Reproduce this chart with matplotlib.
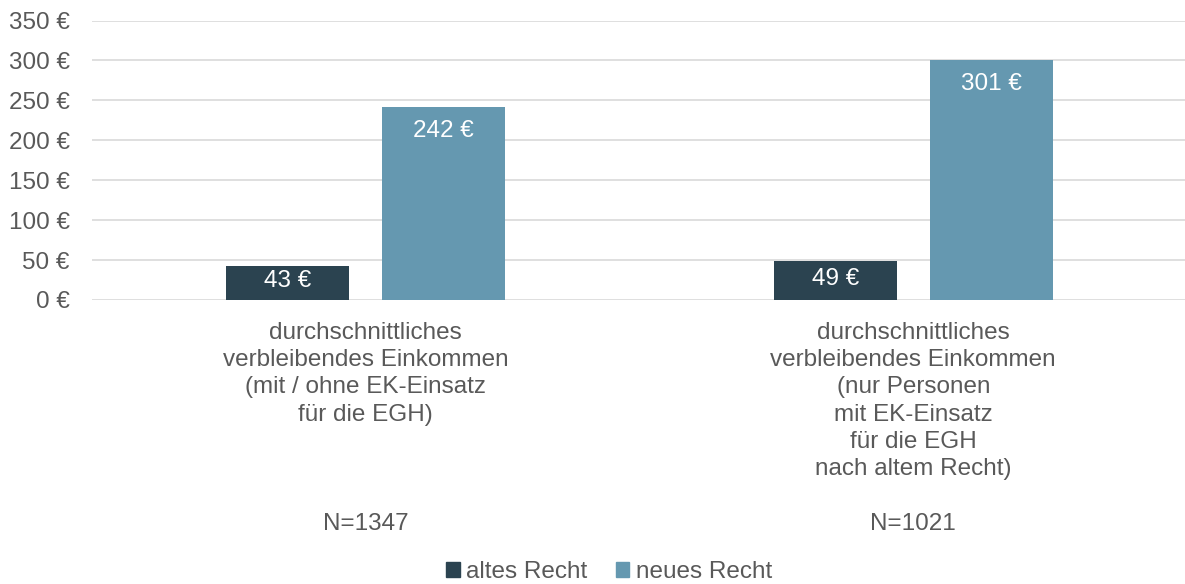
import matplotlib.pyplot as plt
import numpy as np
from matplotlib.patches import Patch

plt.rcParams['font.family'] = ['Liberation Sans', 'DejaVu Sans']

# Daten
kategorien = [
    "durchschnittliches\nverbleibendes Einkommen\n(mit / ohne EK-Einsatz\nfür die EGH)",
    "durchschnittliches\nverbleibendes Einkommen\n(nur Personen\nmit EK-Einsatz\nfür die EGH\nnach altem Recht)",
]
fallzahlen = ["N=1347", "N=1021"]
altes_recht = [43, 49]
neues_recht = [242, 301]
serien = ["altes Recht", "neues Recht"]
y_ticks = [0, 50, 100, 150, 200, 250, 300, 350]

farbe_alt = "#2b4350"
farbe_neu = "#6598b0"
text_grau = "#595959"
fs = 17.5

fig = plt.figure(figsize=(11.85, 5.84), dpi=100)
ax = fig.add_axes([92 / 1185, 284 / 584, 1095 / 1185, 279.5 / 584])

x = np.arange(len(kategorien))
breite = 0.225
versatz = 0.1425

b1 = ax.bar(x - versatz, altes_recht, breite, color=farbe_alt, zorder=3)
b2 = ax.bar(x + versatz, neues_recht, breite, color=farbe_neu, zorder=3)

# Werte in den Balken
for bars, werte in [(b1, altes_recht), (b2, neues_recht)]:
    for rect, v in zip(bars, werte):
        y = max(v / 2 + 2, v - 30)
        ax.text(rect.get_x() + rect.get_width() / 2, y, f"{v} €",
                ha='center', va='center', color='white', fontsize=fs, zorder=4)

ax.set_ylim(0, 350)
ax.set_xlim(-0.5, 1.5)
ax.set_yticks(y_ticks)
ax.set_yticklabels([f"{t} €" for t in y_ticks])
ax.yaxis.grid(True, color="#d9d9d9", linewidth=1.2, zorder=0)
ax.set_axisbelow(True)

ax.set_xticks(x)
ax.set_xticklabels(kategorien, linespacing=1.3)
ax.tick_params(axis='x', length=0, pad=16, labelsize=fs, labelcolor=text_grau)
ax.tick_params(axis='y', length=0, pad=16, labelsize=fs, labelcolor=text_grau)

for s in ax.spines.values():
    s.set_visible(False)

# Fallzahlen unter den Kategorien
for xi, n in zip(x, fallzahlen):
    ax.text(xi, -0.8, n, transform=ax.get_xaxis_transform(),
            ha='center', va='center', fontsize=fs, color=text_grau)

handles = [Patch(color=farbe_alt), Patch(color=farbe_neu)]
fig.legend(handles, serien, loc='center', bbox_to_anchor=(609 / 1185, 1 - 572 / 584),
           ncol=2, frameon=False, fontsize=fs, handlelength=0.55, handleheight=0.55,
           handletextpad=0.25, columnspacing=1.2, labelcolor=text_grau,
           borderpad=0)

fig.savefig("out.png", dpi=100)
